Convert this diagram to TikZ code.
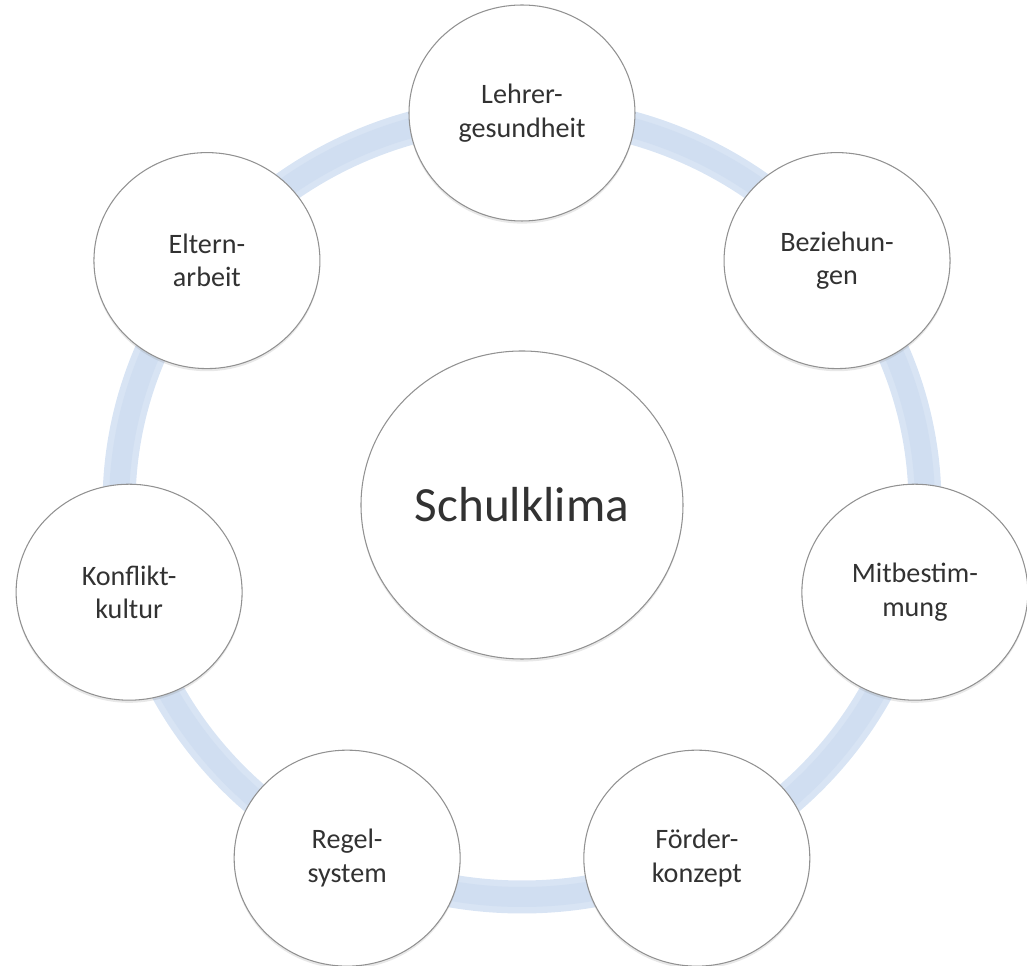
\documentclass[tikz,border=0pt]{standalone}
\usepackage{fontspec}
\setmainfont{Carlito}
\usetikzlibrary{shapes.geometric,shadows}

\providecommand{\colorRingOuter}{ringOuter}
\providecommand{\colorRingInner}{ringInner}
\providecommand{\ringrx}{8.06}
\providecommand{\ringry}{7.84}
\providecommand{\ringthickness}{0.66cm}
\providecommand{\nodeborderthickness}{0.6pt}

\definecolor{ringOuter}{RGB}{216,228,244}
\definecolor{ringInner}{RGB}{208,222,241}
\definecolor{nodeBorder}{RGB}{145,145,145}
\definecolor{labelText}{RGB}{50,50,50}

\begin{document}
\begin{tikzpicture}[
    % Node styles
    node_base/.style={
        ellipse,
        draw=nodeBorder,
        line width=\nodeborderthickness,
        fill=white,
        inner sep=0pt,
        text=labelText,
        align=center,
        drop shadow={shadow xshift=0pt, shadow yshift=-1.5pt, opacity=0.18}
    },
    topic_node/.style={node_base, minimum width=4.52cm, minimum height=4.32cm,
        font=\fontsize{16}{19}\selectfont},
    center_node/.style={node_base, minimum width=6.44cm, minimum height=6.16cm,
        font=\fontsize{28}{33}\selectfont},
    % Ring styles
    ring_outer/.style={line width=\ringthickness, draw=\colorRingOuter},
    ring_inner/.style={line width=0.4cm, draw=\colorRingInner}
]
    \useasboundingbox (-10.44,-9.22) rectangle (10.10,10.10);

    % ==================== RING (drawn first) ====================
    \coordinate (hub) at (0, 0);
    \draw[ring_outer] (hub) ellipse [x radius=\ringrx, y radius=\ringry];
    \draw[ring_inner] (hub) ellipse [x radius=\ringrx, y radius=\ringry];

    % ==================== CENTER ====================
    \node[center_node] (klima) at (hub) {Schulklima};

    % ==================== OUTER TOPICS (7 around the ring) ====================
    \node[topic_node] (lehrer)    at ({\ringrx*cos(90)},      {\ringry*sin(90)})      {Lehrer-\\gesundheit};
    \node[topic_node] (bezieh)    at ({\ringrx*cos(38.571)},  {\ringry*sin(38.571)})  {Beziehun-\\gen};
    \node[topic_node] (mitbest)   at ({\ringrx*cos(-12.857)}, {\ringry*sin(-12.857)}) {Mitbestim-\\mung};
    \node[topic_node] (foerder)   at ({\ringrx*cos(-64.286)}, {\ringry*sin(-64.286)}) {Förder-\\konzept};
    \node[topic_node] (regel)     at ({\ringrx*cos(-115.714)},{\ringry*sin(-115.714)}) {Regel-\\system};
    \node[topic_node] (konflikt)  at ({\ringrx*cos(-167.143)},{\ringry*sin(-167.143)}) {Konflikt-\\kultur};
    \node[topic_node] (eltern)    at ({\ringrx*cos(141.429)}, {\ringry*sin(141.429)}) {Eltern-\\arbeit};

\end{tikzpicture}
\end{document}
